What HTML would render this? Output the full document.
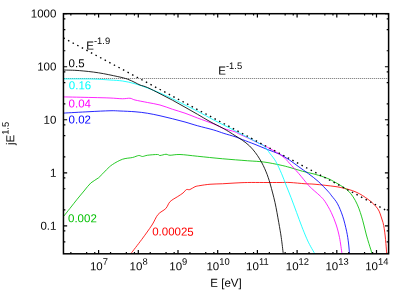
<!DOCTYPE html>
<html><head><meta charset="utf-8"><title>plot</title>
<style>html,body{margin:0;padding:0;background:#fff;}body{width:415px;height:291px;overflow:hidden;position:relative;font-family:"Liberation Sans",sans-serif;}</style></head>
<body>
<svg width="415" height="291" viewBox="0 0 415 291" style="position:absolute;left:0;top:0;will-change:transform">
<rect x="0" y="0" width="415" height="291" fill="#fff"/>
<clipPath id="c"><rect x="63.45" y="13.7" width="325.15000000000003" height="240.10000000000002"/></clipPath>
<line x1="64" y1="78.5" x2="388" y2="78.5" stroke="#e2e2e2" stroke-width="1"/><line x1="64" y1="78.5" x2="388" y2="78.5" stroke="#8a8a8a" stroke-width="1" stroke-dasharray="1 1"/>
<g clip-path="url(#c)" fill="none" stroke-width="0.85" stroke-linejoin="round">
<path d="M130.80,253.70 C132.62,251.33 138.17,244.28 141.70,239.50 C145.23,234.72 149.28,229.17 152.00,225.00 C154.72,220.83 155.70,217.25 158.00,214.50 C160.30,211.75 163.78,210.65 165.80,208.50 C167.82,206.35 168.10,203.60 170.10,201.60 C172.10,199.60 175.65,197.93 177.80,196.50 C179.95,195.07 181.57,194.15 183.00,193.00 C184.43,191.85 185.27,190.17 186.40,189.60 C187.53,189.03 188.37,190.08 189.80,189.60 C191.23,189.12 193.30,187.37 195.00,186.70 C196.70,186.03 197.50,186.01 200.00,185.60 C202.50,185.19 206.25,184.56 210.00,184.25 C213.75,183.94 218.33,183.96 222.50,183.75 C226.67,183.54 230.83,183.21 235.00,183.00 C239.17,182.79 242.71,182.58 247.50,182.50 C252.29,182.42 258.33,182.50 263.75,182.50 C269.17,182.50 275.62,182.50 280.00,182.50 C284.38,182.50 285.83,182.29 290.00,182.50 C294.17,182.71 300.83,183.46 305.00,183.75 C309.17,184.04 310.00,183.79 315.00,184.25 C320.00,184.71 330.22,185.84 335.00,186.50 C339.78,187.16 340.82,187.52 343.70,188.20 C346.58,188.88 349.65,189.67 352.30,190.60 C354.95,191.53 357.43,192.67 359.60,193.80 C361.77,194.93 363.38,196.08 365.30,197.40 C367.22,198.72 369.28,200.13 371.10,201.70 C372.92,203.27 374.87,205.23 376.20,206.80 C377.53,208.37 378.27,209.42 379.10,211.10 C379.93,212.78 380.55,215.00 381.20,216.90 C381.85,218.80 382.50,220.57 383.00,222.50 C383.50,224.43 383.83,226.25 384.20,228.50 C384.57,230.75 384.92,233.50 385.20,236.00 C385.48,238.50 385.65,240.55 385.90,243.50 C386.15,246.45 386.57,252.00 386.70,253.70" stroke="#ff0000"/>
<path d="M63.50,216.50 C64.58,215.13 67.72,211.18 70.00,208.30 C72.28,205.42 74.87,202.08 77.20,199.20 C79.53,196.32 81.72,193.72 84.00,191.00 C86.28,188.28 88.45,185.12 90.90,182.90 C93.35,180.68 96.12,179.88 98.70,177.70 C101.28,175.52 104.10,172.00 106.40,169.80 C108.70,167.60 109.82,166.26 112.50,164.50 C115.18,162.74 119.17,160.42 122.50,159.25 C125.83,158.08 129.79,158.12 132.50,157.50 C135.21,156.88 137.08,155.67 138.75,155.50 C140.42,155.33 141.04,156.54 142.50,156.50 C143.96,156.46 145.00,155.58 147.50,155.25 C150.00,154.92 155.42,154.46 157.50,154.50 C159.58,154.54 158.58,155.54 160.00,155.50 C161.42,155.46 164.33,154.29 166.00,154.25 C167.67,154.21 167.67,155.21 170.00,155.25 C172.33,155.29 175.42,154.33 180.00,154.50 C184.58,154.67 190.42,155.54 197.50,156.25 C204.58,156.96 214.17,158.00 222.50,158.75 C230.83,159.50 240.62,160.21 247.50,160.75 C254.38,161.29 258.33,161.29 263.75,162.00 C269.17,162.71 275.62,164.08 280.00,165.00 C284.38,165.92 286.25,166.46 290.00,167.50 C293.75,168.54 298.33,170.12 302.50,171.25 C306.67,172.38 310.78,173.04 315.00,174.25 C319.22,175.46 324.47,177.18 327.80,178.50 C331.13,179.82 332.83,181.02 335.00,182.20 C337.17,183.38 338.87,184.38 340.80,185.60 C342.73,186.82 344.92,188.13 346.60,189.50 C348.28,190.87 349.47,192.00 350.90,193.80 C352.33,195.60 353.88,197.90 355.20,200.30 C356.52,202.70 357.72,205.43 358.80,208.20 C359.88,210.97 360.85,214.10 361.70,216.90 C362.55,219.70 363.12,221.98 363.90,225.00 C364.68,228.02 365.57,231.92 366.40,235.00 C367.23,238.08 367.95,240.38 368.90,243.50 C369.85,246.62 371.57,252.00 372.10,253.70" stroke="#00c000"/>
<path d="M63.50,113.10 C67.75,112.87 81.25,112.09 89.00,111.70 C96.75,111.31 104.83,110.87 110.00,110.75 C115.17,110.63 115.83,110.83 120.00,111.00 C124.17,111.17 130.42,111.38 135.00,111.75 C139.58,112.12 143.33,112.58 147.50,113.25 C151.67,113.92 155.83,114.83 160.00,115.75 C164.17,116.67 168.33,117.71 172.50,118.75 C176.67,119.79 180.83,120.83 185.00,122.00 C189.17,123.17 192.71,124.42 197.50,125.75 C202.29,127.08 209.35,128.72 213.75,130.00 C218.15,131.28 220.36,132.28 223.90,133.40 C227.44,134.52 231.90,135.67 235.00,136.70 C238.10,137.73 239.17,138.32 242.50,139.60 C245.83,140.88 250.83,142.75 255.00,144.40 C259.17,146.05 263.40,147.87 267.50,149.50 C271.60,151.13 275.97,152.47 279.60,154.20 C283.23,155.93 286.08,157.78 289.30,159.90 C292.52,162.02 295.70,164.60 298.90,166.90 C302.10,169.20 305.28,171.28 308.50,173.70 C311.72,176.12 314.98,178.50 318.20,181.40 C321.42,184.30 325.55,188.68 327.80,191.10 C330.05,193.52 330.08,193.79 331.70,195.90 C333.32,198.01 335.67,200.36 337.50,203.75 C339.33,207.14 341.18,211.67 342.70,216.25 C344.22,220.83 345.63,226.79 346.60,231.25 C347.57,235.71 348.02,239.26 348.50,243.00 C348.98,246.74 349.33,251.92 349.50,253.70" stroke="#0000ff"/>
<path d="M63.50,96.90 C68.25,97.00 84.25,97.32 92.00,97.50 C99.75,97.68 104.92,97.79 110.00,98.00 C115.08,98.21 119.17,98.71 122.50,98.75 C125.83,98.79 127.92,98.04 130.00,98.25 C132.08,98.46 132.08,99.29 135.00,100.00 C137.92,100.71 143.33,101.67 147.50,102.50 C151.67,103.33 155.83,103.88 160.00,105.00 C164.17,106.12 168.33,107.88 172.50,109.25 C176.67,110.62 180.83,111.74 185.00,113.20 C189.17,114.66 192.71,116.20 197.50,118.00 C202.29,119.80 209.35,122.23 213.75,124.00 C218.15,125.77 220.36,127.30 223.90,128.60 C227.44,129.90 232.58,130.97 235.00,131.80 C237.42,132.63 235.98,132.45 238.40,133.60 C240.82,134.75 246.73,137.40 249.50,138.70 C252.27,140.00 252.60,140.25 255.00,141.40 C257.40,142.55 261.23,144.30 263.90,145.60 C266.57,146.90 268.38,147.77 271.00,149.20 C273.62,150.63 277.17,152.58 279.60,154.20 C282.03,155.82 283.98,157.42 285.60,158.90 C287.22,160.38 287.08,160.63 289.30,163.10 C291.52,165.57 295.70,170.00 298.90,173.70 C302.10,177.40 305.93,182.45 308.50,185.30 C311.07,188.15 312.37,189.03 314.30,190.80 C316.23,192.57 318.32,194.12 320.10,195.90 C321.88,197.68 323.14,198.73 325.00,201.50 C326.86,204.27 329.38,208.58 331.25,212.50 C333.12,216.42 334.88,220.83 336.25,225.00 C337.62,229.17 338.54,232.72 339.50,237.50 C340.46,242.28 341.58,251.00 342.00,253.70" stroke="#ff00ff"/>
<path d="M63.50,78.90 C68.25,78.92 84.25,78.82 92.00,79.00 C99.75,79.18 104.92,79.67 110.00,80.00 C115.08,80.33 118.33,80.38 122.50,81.00 C126.67,81.62 130.83,82.58 135.00,83.75 C139.17,84.92 143.33,86.46 147.50,88.00 C151.67,89.54 155.83,91.21 160.00,93.00 C164.17,94.79 168.33,96.75 172.50,98.75 C176.67,100.75 180.83,102.92 185.00,105.00 C189.17,107.08 192.71,108.75 197.50,111.25 C202.29,113.75 208.33,117.17 213.75,120.00 C219.17,122.83 224.38,125.32 230.00,128.20 C235.62,131.08 242.50,134.70 247.50,137.30 C252.50,139.90 257.25,142.35 260.00,143.80 C262.75,145.25 262.33,144.38 264.00,146.00 C265.67,147.62 268.03,150.92 270.00,153.50 C271.97,156.08 273.87,158.13 275.80,161.50 C277.73,164.87 279.90,169.78 281.60,173.70 C283.30,177.62 284.43,181.03 286.00,185.00 C287.57,188.97 289.23,192.92 291.00,197.50 C292.77,202.08 294.82,207.71 296.60,212.50 C298.38,217.29 300.00,221.88 301.70,226.25 C303.40,230.62 305.33,235.42 306.80,238.75 C308.27,242.08 309.17,243.76 310.50,246.25 C311.83,248.74 314.08,252.46 314.80,253.70" stroke="#00ffff"/>
<path d="M63.50,70.00 C66.13,70.10 73.47,70.13 79.30,70.60 C85.13,71.07 92.08,71.80 98.50,72.80 C104.92,73.80 112.98,75.55 117.80,76.60 C122.62,77.65 124.53,78.12 127.40,79.10 C130.27,80.08 132.90,81.52 135.00,82.50 C137.10,83.48 137.92,84.17 140.00,85.00 C142.08,85.83 144.17,86.04 147.50,87.50 C150.83,88.96 155.83,91.63 160.00,93.75 C164.17,95.87 168.33,97.96 172.50,100.20 C176.67,102.44 180.83,104.85 185.00,107.20 C189.17,109.55 193.33,111.90 197.50,114.30 C201.67,116.70 205.83,119.32 210.00,121.60 C214.17,123.88 219.17,126.20 222.50,128.00 C225.83,129.80 227.92,131.13 230.00,132.40 C232.08,133.67 232.97,134.32 235.00,135.60 C237.03,136.88 239.78,138.38 242.20,140.10 C244.62,141.82 247.33,143.85 249.50,145.90 C251.67,147.95 253.52,150.23 255.20,152.40 C256.88,154.57 258.27,156.73 259.60,158.90 C260.93,161.07 262.12,163.23 263.20,165.40 C264.28,167.57 265.27,169.88 266.10,171.90 C266.93,173.92 267.47,175.32 268.20,177.50 C268.93,179.68 269.37,180.83 270.50,185.00 C271.63,189.17 273.62,196.25 275.00,202.50 C276.38,208.75 277.71,216.67 278.75,222.50 C279.79,228.33 280.50,232.30 281.25,237.50 C282.00,242.70 282.92,251.00 283.25,253.70" stroke="#000"/>
<line x1="63.45" y1="37.91" x2="388.6" y2="211.64" stroke="#000" stroke-width="1.35" stroke-dasharray="1.5 3.69" stroke-dashoffset="0"/>
</g>
<path d="M70.85,253.8 v-1.9 M70.85,13.7 v1.9 M86.65,253.8 v-1.9 M86.65,13.7 v1.9 M94.75,253.8 v-1.9 M94.75,13.7 v1.9 M98.60,253.8 v-3.7 M98.60,13.7 v3.7 M110.55,253.8 v-1.9 M110.55,13.7 v1.9 M126.35,253.8 v-1.9 M126.35,13.7 v1.9 M134.45,253.8 v-1.9 M134.45,13.7 v1.9 M138.30,253.8 v-3.7 M138.30,13.7 v3.7 M150.25,253.8 v-1.9 M150.25,13.7 v1.9 M166.05,253.8 v-1.9 M166.05,13.7 v1.9 M174.15,253.8 v-1.9 M174.15,13.7 v1.9 M178.00,253.8 v-3.7 M178.00,13.7 v3.7 M189.95,253.8 v-1.9 M189.95,13.7 v1.9 M205.75,253.8 v-1.9 M205.75,13.7 v1.9 M213.85,253.8 v-1.9 M213.85,13.7 v1.9 M217.70,253.8 v-3.7 M217.70,13.7 v3.7 M229.65,253.8 v-1.9 M229.65,13.7 v1.9 M245.45,253.8 v-1.9 M245.45,13.7 v1.9 M253.55,253.8 v-1.9 M253.55,13.7 v1.9 M257.40,253.8 v-3.7 M257.40,13.7 v3.7 M269.35,253.8 v-1.9 M269.35,13.7 v1.9 M285.15,253.8 v-1.9 M285.15,13.7 v1.9 M293.25,253.8 v-1.9 M293.25,13.7 v1.9 M297.10,253.8 v-3.7 M297.10,13.7 v3.7 M309.05,253.8 v-1.9 M309.05,13.7 v1.9 M324.85,253.8 v-1.9 M324.85,13.7 v1.9 M332.95,253.8 v-1.9 M332.95,13.7 v1.9 M336.80,253.8 v-3.7 M336.80,13.7 v3.7 M348.75,253.8 v-1.9 M348.75,13.7 v1.9 M364.55,253.8 v-1.9 M364.55,13.7 v1.9 M372.65,253.8 v-1.9 M372.65,13.7 v1.9 M376.50,253.8 v-3.7 M376.50,13.7 v3.7 M388.45,253.8 v-1.9 M388.45,13.7 v1.9 M63.45,241.78 h1.9 M388.6,241.78 h-1.9 M63.45,230.96 h1.9 M388.6,230.96 h-1.9 M63.45,225.82 h3.7 M388.6,225.82 h-3.7 M63.45,209.86 h1.9 M388.6,209.86 h-1.9 M63.45,188.75 h1.9 M388.6,188.75 h-1.9 M63.45,177.93 h1.9 M388.6,177.93 h-1.9 M63.45,172.79 h3.7 M388.6,172.79 h-3.7 M63.45,156.83 h1.9 M388.6,156.83 h-1.9 M63.45,135.72 h1.9 M388.6,135.72 h-1.9 M63.45,124.90 h1.9 M388.6,124.90 h-1.9 M63.45,119.76 h3.7 M388.6,119.76 h-3.7 M63.45,103.80 h1.9 M388.6,103.80 h-1.9 M63.45,82.69 h1.9 M388.6,82.69 h-1.9 M63.45,71.87 h1.9 M388.6,71.87 h-1.9 M63.45,66.73 h3.7 M388.6,66.73 h-3.7 M63.45,50.77 h1.9 M388.6,50.77 h-1.9 M63.45,29.66 h1.9 M388.6,29.66 h-1.9 M63.45,18.84 h1.9 M388.6,18.84 h-1.9 M63.45,13.70 h3.7 M388.6,13.70 h-3.7" stroke="#000" stroke-width="1.2" fill="none"/>
<rect x="63.45" y="13.7" width="325.15000000000003" height="240.10000000000002" fill="none" stroke="#000" stroke-width="1.5"/>
<g font-family="Liberation Sans, sans-serif" text-rendering="geometricPrecision">
<text x="56.40" y="17.60" transform="rotate(0.06 56.40 17.60)" font-size="11.5" text-anchor="end" fill="#000" >1000</text>
<text x="56.40" y="70.63" transform="rotate(0.06 56.40 70.63)" font-size="11.5" text-anchor="end" fill="#000" >100</text>
<text x="56.40" y="123.66" transform="rotate(0.06 56.40 123.66)" font-size="11.5" text-anchor="end" fill="#000" >10</text>
<text x="56.40" y="176.69" transform="rotate(0.06 56.40 176.69)" font-size="11.5" text-anchor="end" fill="#000" >1</text>
<text x="56.40" y="229.72" transform="rotate(0.06 56.40 229.72)" font-size="11.5" text-anchor="end" fill="#000" >0.1</text>
<text x="89.89" y="270.30" transform="rotate(0.06 89.89 270.30)" font-size="11.5" text-anchor="start" fill="#000" >10<tspan font-size="9.4" dy="-5.5">7</tspan></text>
<text x="129.59" y="270.30" transform="rotate(0.06 129.59 270.30)" font-size="11.5" text-anchor="start" fill="#000" >10<tspan font-size="9.4" dy="-5.5">8</tspan></text>
<text x="169.29" y="270.30" transform="rotate(0.06 169.29 270.30)" font-size="11.5" text-anchor="start" fill="#000" >10<tspan font-size="9.4" dy="-5.5">9</tspan></text>
<text x="206.38" y="270.30" transform="rotate(0.06 206.38 270.30)" font-size="11.5" text-anchor="start" fill="#000" >10<tspan font-size="9.4" dy="-5.5">10</tspan></text>
<text x="246.08" y="270.30" transform="rotate(0.06 246.08 270.30)" font-size="11.5" text-anchor="start" fill="#000" >10<tspan font-size="9.4" dy="-5.5">11</tspan></text>
<text x="285.78" y="270.30" transform="rotate(0.06 285.78 270.30)" font-size="11.5" text-anchor="start" fill="#000" >10<tspan font-size="9.4" dy="-5.5">12</tspan></text>
<text x="325.48" y="270.30" transform="rotate(0.06 325.48 270.30)" font-size="11.5" text-anchor="start" fill="#000" >10<tspan font-size="9.4" dy="-5.5">13</tspan></text>
<text x="365.18" y="270.30" transform="rotate(0.06 365.18 270.30)" font-size="11.5" text-anchor="start" fill="#000" >10<tspan font-size="9.4" dy="-5.5">14</tspan></text>
<text x="226.00" y="286.80" transform="rotate(0.06 226.00 286.80)" font-size="11.5" text-anchor="middle" fill="#000" >E [eV]</text>
<text transform="translate(14.2,145.1) rotate(-89.94)" font-size="11.5">jE<tspan font-size="9.4" dy="-5.6">1.5</tspan></text>
<text x="86.30" y="49.40" transform="rotate(0.06 86.30 49.40)" font-size="11.5" text-anchor="start" fill="#000" >E<tspan font-size="9.4" dy="-5.5">-1.9</tspan></text>
<text x="218.30" y="74.50" transform="rotate(0.06 218.30 74.50)" font-size="11.5" text-anchor="start" fill="#000" >E<tspan font-size="9.4" dy="-5.5">-1.5</tspan></text>
<text x="68.60" y="67.30" transform="rotate(0.06 68.60 67.30)" font-size="11.5" text-anchor="start" fill="#000" >0.5</text>
<text x="68.80" y="89.20" transform="rotate(0.06 68.80 89.20)" font-size="11.5" text-anchor="start" fill="#00ffff" >0.16</text>
<text x="68.60" y="107.60" transform="rotate(0.06 68.60 107.60)" font-size="11.5" text-anchor="start" fill="#ff00ff" >0.04</text>
<text x="68.60" y="123.50" transform="rotate(0.06 68.60 123.50)" font-size="11.5" text-anchor="start" fill="#0000ff" >0.02</text>
<text x="68.00" y="222.30" transform="rotate(0.06 68.00 222.30)" font-size="11.5" text-anchor="start" fill="#00c000" >0.002</text>
<text x="152.20" y="235.60" transform="rotate(0.06 152.20 235.60)" font-size="11.5" text-anchor="start" fill="#ff0000" >0.00025</text>
</g>
</svg>
</body></html>
